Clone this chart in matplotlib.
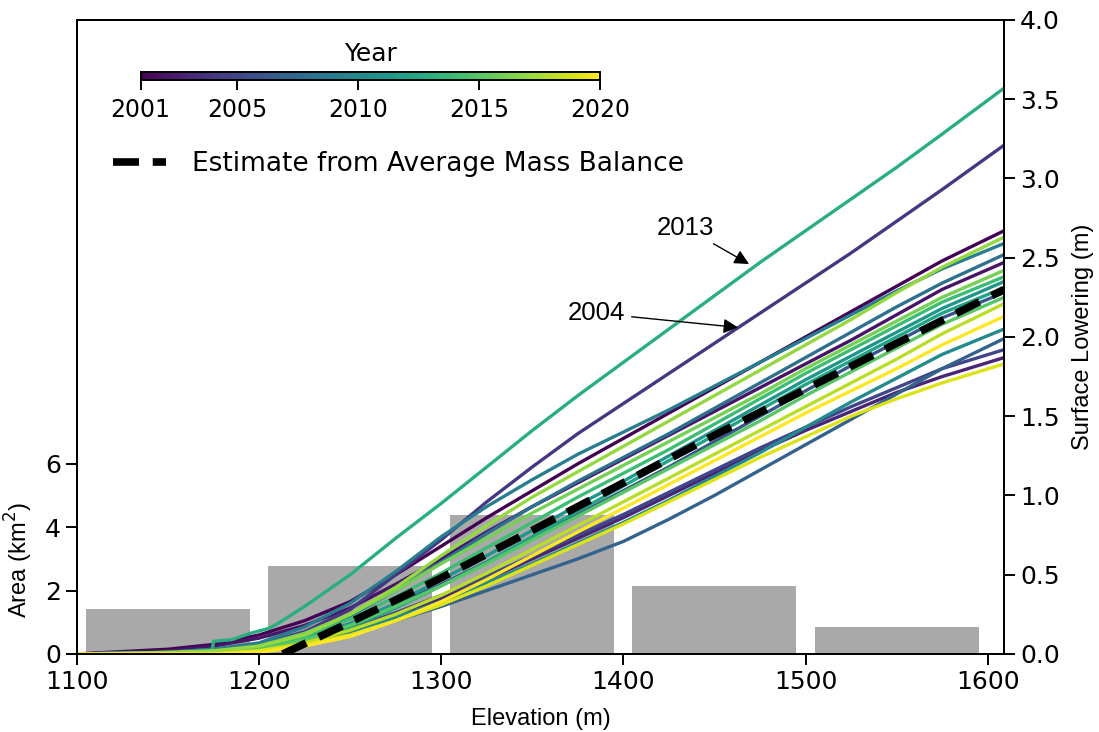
import matplotlib
matplotlib.use("Agg")
import matplotlib.pyplot as plt
import numpy as np
from matplotlib import colors
from matplotlib.cm import ScalarMappable

# area per elevation band (left axis)
band_centers = [1150, 1250, 1350, 1450, 1550]
band_area = [1.42, 2.78, 4.37, 2.15, 0.85]

# surface lowering per year (right axis)
years = list(range(2001, 2021))
elev = [1100, 1150, 1175, 1200, 1225, 1250, 1275, 1300, 1325, 1350,
        1375, 1400, 1425, 1450, 1475, 1500, 1525, 1550, 1575, 1609]
lowering = [
    [0, .03, .06, .12, .21, .33, .50, .68, .86, 1.03, 1.20, 1.36, 1.52, 1.68, 1.84, 2.00, 2.16, 2.32, 2.48, 2.67],  # 2001
    [0, .02, .05, .10, .18, .29, .44, .60, .77, .93, 1.08, 1.23, 1.38, 1.53, 1.68, 1.83, 1.98, 2.14, 2.30, 2.47],   # 2002
    [0, .01, .02, .04, .08, .15, .24, .35, .47, .60, .73, .86, 1.00, 1.14, 1.28, 1.41, 1.53, 1.65, 1.75, 1.87],     # 2003
    [0, .01, .03, .06, .14, .28, .50, .72, .96, 1.18, 1.39, 1.58, 1.77, 1.96, 2.15, 2.34, 2.53, 2.73, 2.93, 3.21],  # 2004
    [0, .01, .02, .04, .09, .16, .26, .37, .49, .62, .75, .88, 1.02, 1.16, 1.30, 1.43, 1.56, 1.68, 1.80, 1.92],     # 2005
    [0, .01, .02, .04, .10, .19, .31, .44, .58, .73, .88, 1.03, 1.18, 1.34, 1.50, 1.66, 1.82, 1.97, 2.12, 2.28],    # 2006
    [0, 0, .01, .03, .07, .13, .21, .30, .40, .50, .60, .71, .85, 1.00, 1.16, 1.32, 1.48, 1.64, 1.80, 1.99],        # 2007
    [0, .01, .03, .06, .13, .24, .40, .58, .76, .93, 1.09, 1.24, 1.39, 1.55, 1.71, 1.87, 2.03, 2.19, 2.34, 2.52],   # 2008
    [0, .01, .03, .07, .17, .32, .52, .74, .93, 1.10, 1.26, 1.40, 1.54, 1.69, 1.84, 1.99, 2.14, 2.29, 2.43, 2.59],  # 2009
    [0, 0, .01, .02, .07, .14, .23, .33, .45, .57, .70, .83, .97, 1.12, 1.27, 1.43, 1.59, 1.74, 1.89, 2.05],        # 2010
    [0, 0, .01, .03, .09, .19, .32, .47, .62, .78, .94, 1.09, 1.25, 1.41, 1.57, 1.73, 1.88, 2.03, 2.18, 2.35],      # 2011
    [0, 0, .01, .03, .08, .17, .29, .43, .58, .74, .90, 1.06, 1.22, 1.38, 1.54, 1.70, 1.85, 2.00, 2.15, 2.31],      # 2012
    None,                                                                                                          # 2013, own grid
    [0, 0, .01, .04, .11, .22, .36, .51, .67, .83, .99, 1.14, 1.29, 1.45, 1.61, 1.77, 1.92, 2.07, 2.22, 2.38],      # 2014
    [0, 0, .01, .03, .09, .18, .30, .43, .57, .72, .87, 1.02, 1.17, 1.32, 1.47, 1.63, 1.78, 1.93, 2.08, 2.25],      # 2015
    [0, 0, .01, .05, .13, .25, .40, .57, .73, .89, 1.04, 1.19, 1.34, 1.49, 1.64, 1.80, 1.95, 2.10, 2.25, 2.42],     # 2016
    [0, .01, .02, .05, .12, .25, .42, .62, .81, .99, 1.15, 1.31, 1.47, 1.63, 1.79, 1.95, 2.11, 2.28, 2.44, 2.63],   # 2017
    [0, 0, 0, .02, .07, .15, .25, .37, .51, .66, .81, .96, 1.11, 1.26, 1.41, 1.56, 1.71, 1.86, 2.02, 2.21],         # 2018
    [0, 0, 0, .02, .06, .12, .21, .31, .43, .56, .69, .82, .96, 1.10, 1.24, 1.37, 1.50, 1.61, 1.71, 1.83],          # 2019
    [0, 0, 0, .01, .05, .11, .21, .33, .47, .62, .77, .92, 1.07, 1.22, 1.37, 1.52, 1.66, 1.80, 1.95, 2.13],         # 2020
]
elev_2013 = [1174, 1175, 1185, 1195, 1205, 1210, 1225, 1250, 1275, 1300, 1325,
             1350, 1375, 1400, 1425, 1450, 1475, 1500, 1525, 1550, 1575, 1609]
lowering_2013 = [0, .08, .09, .13, .16, .19, .30, .50, .73, .95, 1.18,
                 1.41, 1.63, 1.84, 2.05, 2.26, 2.47, 2.67, 2.87, 3.07, 3.28, 3.57]

# estimate from average mass balance
elev_mb = [1213, 1250, 1300, 1350, 1400, 1450, 1500, 1550, 1609]
lowering_mb = [0, .20, .48, .78, 1.08, 1.38, 1.67, 1.96, 2.30]

cbar_ticks = [2001, 2005, 2010, 2015, 2020]

fig = plt.figure(figsize=(10.99, 7.32), dpi=100)
ax = fig.add_axes([0.070, 0.1066, 0.8436, 0.8661])
ax2 = ax.twinx()

ax.bar(band_centers, band_area, width=90, color="darkgray", zorder=1)
ax.set_xlim(1100, 1609)
ax.set_ylim(0, 20)
ax.set_yticks([0, 2, 4, 6])
ax.set_xticks([1100, 1200, 1300, 1400, 1500, 1600])
ax.set_xlabel("Elevation (m)", family="Liberation Sans", fontsize=17, labelpad=10)
ax.set_ylabel("Area (km$^2$)", family="Liberation Sans", fontsize=17)
ax.yaxis.set_label_coords(-0.045, 0.148)

cmap = plt.get_cmap("viridis")
norm = colors.Normalize(vmin=2001, vmax=2020)

for yr, vals in zip(years, lowering):
    if yr == 2013:
        ax2.plot(elev_2013, lowering_2013, color=cmap(norm(yr)), lw=2.4)
    else:
        ax2.plot(elev, vals, color=cmap(norm(yr)), lw=2.4)

ax2.plot(elev_mb, lowering_mb, color="black", lw=5.5, ls=(0, (3.4, 1.8)),
         label="Estimate from Average Mass Balance")
ax2.set_ylim(0, 4.0)
ax2.set_yticks(np.arange(0, 4.01, 0.5))
ax2.set_ylabel("Surface Lowering (m)", family="Liberation Sans", fontsize=17, labelpad=9)

for a in (ax, ax2):
    a.tick_params(labelsize=18, length=8, width=1.4)
    for s in a.spines.values():
        s.set_linewidth(1.4)

ax2.annotate("2013", xy=(1469, 2.46), xytext=(1434, 2.69), ha="center", va="center",
             family="Liberation Sans", fontsize=18.5,
             arrowprops=dict(arrowstyle="-|>", color="black", lw=1, mutation_scale=22,
                             shrinkA=2, shrinkB=0))
ax2.annotate("2004", xy=(1463, 2.06), xytext=(1385, 2.15), ha="center", va="center",
             family="Liberation Sans", fontsize=18.5,
             arrowprops=dict(arrowstyle="-|>", color="black", lw=1, mutation_scale=22,
                             shrinkA=3, shrinkB=0))

ax2.legend(loc="center left", bbox_to_anchor=(0.013, 0.773), frameon=False,
           fontsize=19, handlelength=2.0, handletextpad=1.0)

cax = fig.add_axes([0.128, 0.8907, 0.418, 0.011])
cb = fig.colorbar(ScalarMappable(norm=norm, cmap=cmap), cax=cax, orientation="horizontal")
cb.set_ticks(cbar_ticks)
cb.ax.tick_params(labelsize=17, length=7, width=1.4, pad=6)
cb.outline.set_linewidth(1.4)
cb.ax.set_title("Year", fontsize=18, pad=8)

fig.savefig("out.png", dpi=100)
